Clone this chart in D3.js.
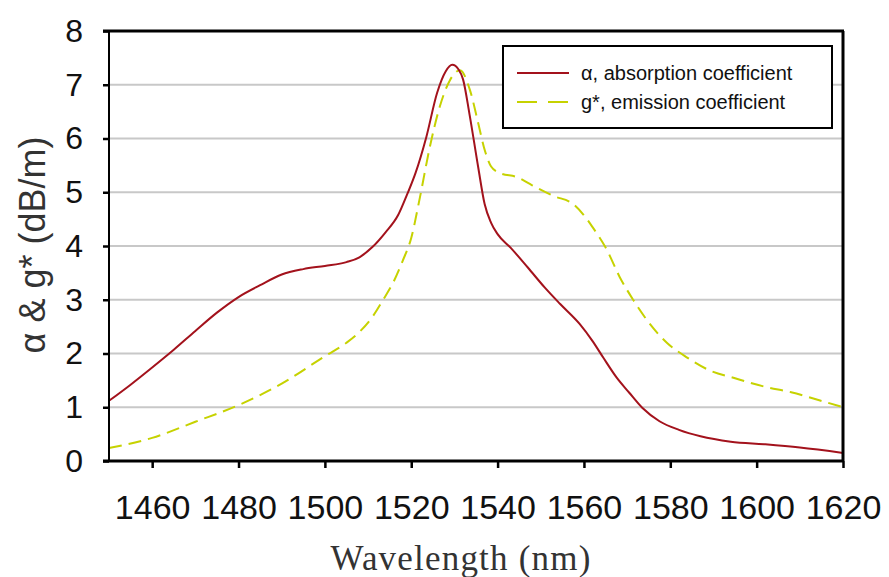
<!DOCTYPE html>
<html>
<head>
<meta charset="utf-8">
<script src="https://cdn.jsdelivr.net/npm/d3@7"></script>
<style>
  html, body { margin: 0; padding: 0; background: #fff; }
  svg { display: block; }
</style>
</head>
<body>
<svg id="chart" width="889" height="577"></svg>
<script>
// ---- data ----
const alphaWavelength = [1450,1455,1460,1465,1470,1475,1480,1485,1490,1495,1500,1505,1508,1511,1514,1517,1519,1521,1523.5,1526,1528,1529.5,1531,1532,1533.5,1535.5,1537,1538.5,1540,1543,1547,1551,1554.5,1559,1562,1564.5,1567.5,1570.5,1573.5,1577.5,1582,1587,1594,1602,1610,1620];
const alphaValues = [1.12,1.42,1.74,2.07,2.42,2.76,3.05,3.27,3.47,3.57,3.63,3.70,3.79,3.98,4.25,4.58,4.95,5.36,6.03,6.85,7.25,7.37,7.28,7.10,6.45,5.47,4.78,4.43,4.22,3.97,3.60,3.22,2.92,2.55,2.23,1.92,1.56,1.27,0.99,0.74,0.58,0.46,0.36,0.31,0.25,0.15];
const gWavelength = [1450,1460,1470,1480,1490,1500,1505,1508,1511,1513.5,1516,1518,1520,1522,1524.3,1526.6,1529,1531.3,1533.6,1535.5,1537,1538.5,1540.5,1544.5,1548,1553,1557.5,1560.5,1562,1565.3,1568.3,1571.4,1574.6,1579.2,1584,1589,1595,1602,1608,1614.5,1620];
const gValues = [0.24,0.43,0.73,1.04,1.44,1.95,2.2,2.40,2.68,3.0,3.35,3.72,4.15,4.9,5.84,6.59,7.09,7.27,6.9,6.29,5.79,5.48,5.36,5.28,5.13,4.93,4.78,4.52,4.35,3.93,3.42,3.0,2.62,2.2,1.92,1.69,1.54,1.38,1.28,1.13,1.0];
const xTicks = [1460,1480,1500,1520,1540,1560,1580,1600,1620];
const yTicks = [0,1,2,3,4,5,6,7,8];
const seriesNames = ["\u03B1, absorption coefficient", "g*, emission coefficient"];
const xTitle = "Wavelength (nm)";
const yTitle = "\u03B1 & g* (dB/m)";

// ---- layout ----
const svg = d3.select("#chart");
const x = d3.scaleLinear().domain([1450, 1620]).range([109, 843]);
const y = d3.scaleLinear().domain([0, 8]).range([461, 31]);
const red = "#a3121c", yellow = "#c6d200";

// gridlines
svg.append("g").selectAll("line").data(yTicks.filter(d => d > 0 && d < 8)).join("line")
  .attr("x1", x(1450)).attr("x2", x(1620))
  .attr("y1", d => y(d)).attr("y2", d => y(d))
  .attr("stroke", "#c8c8c8").attr("stroke-width", 2);

// lines
const alphaData = alphaWavelength.map((w, i) => [w, alphaValues[i]]);
const gData = gWavelength.map((w, i) => [w, gValues[i]]);
const line = d3.line().x(d => x(d[0])).y(d => y(d[1])).curve(d3.curveMonotoneX);

svg.append("path").datum(gData).attr("d", line)
  .attr("fill", "none").attr("stroke", yellow).attr("stroke-width", 2)
  .attr("stroke-dasharray", "13,7");
svg.append("path").datum(alphaData).attr("d", line)
  .attr("fill", "none").attr("stroke", red).attr("stroke-width", 2);

// axes
const xAxis = svg.append("g").attr("transform", `translate(0,${y(0)})`)
  .call(d3.axisBottom(x).tickValues(xTicks).tickSize(7).tickPadding(27).tickFormat(d3.format("d")));
xAxis.select(".domain").remove();
xAxis.selectAll(".tick line").attr("stroke", "#000").attr("stroke-width", 2.5);
xAxis.selectAll("text").attr("font-family", "Liberation Sans, Arial, sans-serif")
  .attr("font-size", 34).attr("fill", "#111");

const yAxis = svg.append("g").attr("transform", `translate(${x(1450)},0)`)
  .call(d3.axisLeft(y).tickValues(yTicks).tickSize(6).tickPadding(20).tickFormat(d3.format("d")));
yAxis.select(".domain").remove();
yAxis.selectAll(".tick line").attr("stroke", "#000").attr("stroke-width", 2.5);
yAxis.selectAll("text").attr("font-family", "Liberation Sans, Arial, sans-serif")
  .attr("font-size", 32).attr("fill", "#111");

// frame
svg.append("line").attr("x1", x(1450)).attr("x2", x(1450)).attr("y1", y(8)).attr("y2", y(0))
  .attr("stroke", "#000").attr("stroke-width", 2);
svg.append("line").attr("x1", x(1450) - 6).attr("x2", x(1620) + 1).attr("y1", y(8)).attr("y2", y(8))
  .attr("stroke", "#000").attr("stroke-width", 3);
svg.append("line").attr("x1", x(1450) - 6).attr("x2", x(1620) + 1).attr("y1", y(0)).attr("y2", y(0))
  .attr("stroke", "#000").attr("stroke-width", 3);
svg.append("line").attr("x1", x(1620)).attr("x2", x(1620)).attr("y1", y(8)).attr("y2", y(0))
  .attr("stroke", "#000").attr("stroke-width", 3);

// legend
const lg = svg.append("g");
lg.append("rect").attr("x", 503).attr("y", 46).attr("width", 329).attr("height", 82)
  .attr("fill", "#fff").attr("stroke", "#000").attr("stroke-width", 2);
const legendItems = [
  { name: seriesNames[0], color: red, dash: null, yy: 73 },
  { name: seriesNames[1], color: yellow, dash: "20,11", yy: 102 }
];
legendItems.forEach(it => {
  lg.append("line").attr("x1", 517).attr("x2", 569).attr("y1", it.yy).attr("y2", it.yy)
    .attr("stroke", it.color).attr("stroke-width", 2).attr("stroke-dasharray", it.dash);
  lg.append("text").attr("x", 581).attr("y", it.yy + 7).text(it.name)
    .attr("font-family", "Liberation Sans, Arial, sans-serif").attr("font-size", 20).attr("fill", "#111");
});

// titles
svg.append("text").attr("x", 461).attr("y", 570).attr("text-anchor", "middle")
  .attr("font-family", "Liberation Serif, Times New Roman, serif").attr("font-size", 35)
  .attr("letter-spacing", 1.2).attr("fill", "#333").text(xTitle);
svg.append("text").attr("transform", "translate(45,245) rotate(-90)").attr("text-anchor", "middle")
  .attr("font-family", "Liberation Sans, Arial, sans-serif").attr("font-size", 36)
  .attr("fill", "#333").text(yTitle);
</script>
</body>
</html>
